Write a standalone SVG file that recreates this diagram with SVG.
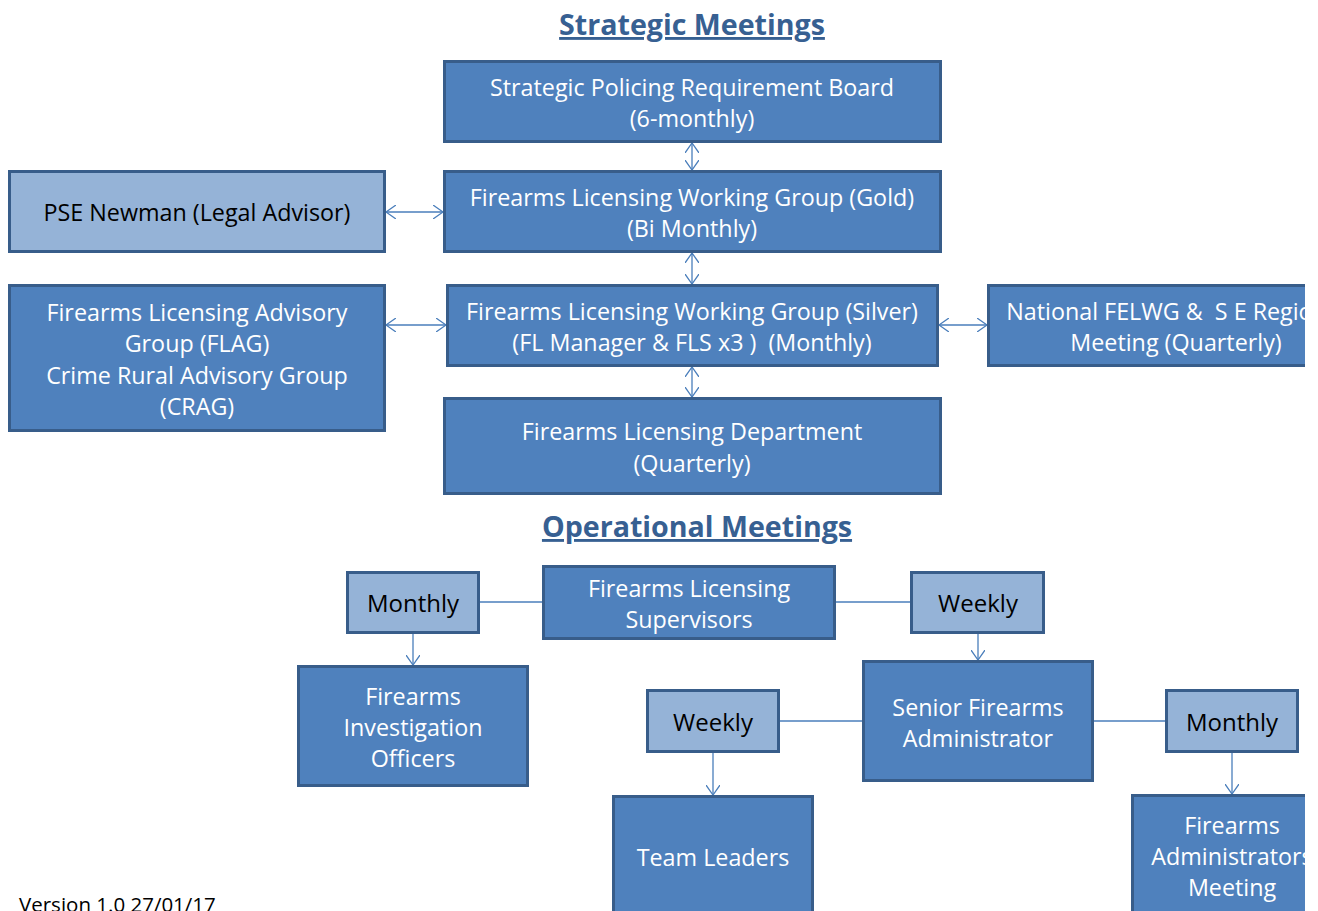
<svg xmlns="http://www.w3.org/2000/svg" width="1318" height="911" viewBox="0 0 1318 911">
  <defs>
    <style>
      .box { fill: #4F81BD; stroke: #385D8A; stroke-width: 3; }
      .lbox { fill: #95B3D7; stroke: #385D8A; stroke-width: 3; }
      .wt { font-family: "Open Sans", Lato, sans-serif; font-size: 23.3px; fill: #FFFFFF; text-anchor: middle; }
      .bt { font-family: "Open Sans", Lato, sans-serif; font-size: 23.3px; fill: #000000; text-anchor: middle; }
      .lt { font-family: "Open Sans", Lato, sans-serif; font-size: 24px; fill: #000000; text-anchor: middle; }
      .title { font-family: "Open Sans", Lato, sans-serif; font-size: 28.6px; font-weight: bold; fill: #376092; text-anchor: middle; text-decoration: underline; }
      .conn { stroke: #4A7EBB; stroke-width: 1.3; fill: none; }
      .foot { font-family: "Open Sans", Lato, sans-serif; font-size: 20.5px; fill: #000000; }
    </style>
    <marker id="arr" viewBox="0 0 10 14" refX="10" refY="7" markerWidth="10" markerHeight="14" markerUnits="userSpaceOnUse" orient="auto-start-reverse">
      <path d="M0,0 L10,7 L0,14" fill="none" stroke="#4A7EBB" stroke-width="1.3"/>
    </marker>
    <clipPath id="page">
      <rect x="0" y="0" width="1305" height="911"/>
    </clipPath>
  </defs>

  <rect x="0" y="0" width="1318" height="911" fill="#FFFFFF"/>

  <g clip-path="url(#page)">
    <!-- section headings -->
    <text class="title" x="692" y="35">Strategic Meetings</text>
    <text class="title" x="697" y="537">Operational Meetings</text>

    <!-- connectors -->
    <g id="connectors">
      <line class="conn" x1="692" y1="143" x2="692" y2="170" marker-start="url(#arr)" marker-end="url(#arr)"/>
      <line class="conn" x1="692" y1="253" x2="692" y2="284" marker-start="url(#arr)" marker-end="url(#arr)"/>
      <line class="conn" x1="692" y1="367" x2="692" y2="397" marker-start="url(#arr)" marker-end="url(#arr)"/>
      <line class="conn" x1="386" y1="212" x2="443" y2="212" marker-start="url(#arr)" marker-end="url(#arr)"/>
      <line class="conn" x1="386" y1="325" x2="446" y2="325" marker-start="url(#arr)" marker-end="url(#arr)"/>
      <line class="conn" x1="939" y1="325" x2="987" y2="325" marker-start="url(#arr)" marker-end="url(#arr)"/>

      <line class="conn" x1="479" y1="602" x2="543" y2="602"/>
      <line class="conn" x1="835" y1="602" x2="911" y2="602"/>
      <line class="conn" x1="413" y1="634" x2="413" y2="665" marker-end="url(#arr)"/>
      <line class="conn" x1="978" y1="634" x2="978" y2="660" marker-end="url(#arr)"/>
      <line class="conn" x1="779" y1="721" x2="863" y2="721"/>
      <line class="conn" x1="1093" y1="721" x2="1166" y2="721"/>
      <line class="conn" x1="713" y1="753" x2="713" y2="795" marker-end="url(#arr)"/>
      <line class="conn" x1="1232" y1="753" x2="1232" y2="794" marker-end="url(#arr)"/>
    </g>

    <!-- strategic meetings -->
    <g id="spr-board">
      <rect class="box" x="444.5" y="61.5" width="496" height="80"/>
      <text class="wt" x="692" y="96">Strategic Policing Requirement Board</text>
      <text class="wt" x="692" y="127">(6-monthly)</text>
    </g>
    <g id="flwg-gold">
      <rect class="box" x="444.5" y="171.5" width="496" height="80"/>
      <text class="wt" x="692" y="206">Firearms Licensing Working Group (Gold)</text>
      <text class="wt" x="692" y="237">(Bi Monthly)</text>
    </g>
    <g id="pse-newman">
      <rect class="lbox" x="9.5" y="171.5" width="375" height="80"/>
      <text class="bt" x="197" y="221">PSE Newman (Legal Advisor)</text>
    </g>
    <g id="flwg-silver">
      <rect class="box" x="447.5" y="285.5" width="490" height="80"/>
      <text class="wt" x="692" y="320">Firearms Licensing Working Group (Silver)</text>
      <text class="wt" x="692" y="351" xml:space="preserve">(FL Manager &amp; FLS x3 )  (Monthly)</text>
    </g>
    <g id="flag-crag">
      <rect class="box" x="9.5" y="285.5" width="375" height="145"/>
      <text class="wt" x="197" y="321">Firearms Licensing Advisory</text>
      <text class="wt" x="197" y="352">Group (FLAG)</text>
      <text class="wt" x="197" y="384">Crime Rural Advisory Group</text>
      <text class="wt" x="197" y="415">(CRAG)</text>
    </g>
    <g id="national-felwg">
      <rect class="box" x="988.5" y="285.5" width="376" height="80"/>
      <text class="wt" x="1176" y="320" xml:space="preserve">National FELWG &amp;  S E Regional</text>
      <text class="wt" x="1176" y="351">Meeting (Quarterly)</text>
    </g>
    <g id="fl-department">
      <rect class="box" x="444.5" y="398.5" width="496" height="95"/>
      <text class="wt" x="692" y="440">Firearms Licensing Department</text>
      <text class="wt" x="692" y="472">(Quarterly)</text>
    </g>

    <!-- operational meetings -->
    <g id="monthly-left">
      <rect class="lbox" x="347.5" y="572.5" width="131" height="60"/>
      <text class="lt" x="413" y="612">Monthly</text>
    </g>
    <g id="fl-supervisors">
      <rect class="box" x="543.5" y="566.5" width="291" height="72"/>
      <text class="wt" x="689" y="597">Firearms Licensing</text>
      <text class="wt" x="689" y="628">Supervisors</text>
    </g>
    <g id="weekly-right">
      <rect class="lbox" x="911.5" y="572.5" width="132" height="60"/>
      <text class="lt" x="978" y="612">Weekly</text>
    </g>
    <g id="investigation-officers">
      <rect class="box" x="298.5" y="666.5" width="229" height="119"/>
      <text class="wt" x="413" y="705">Firearms</text>
      <text class="wt" x="413" y="736">Investigation</text>
      <text class="wt" x="413" y="767">Officers</text>
    </g>
    <g id="senior-administrator">
      <rect class="box" x="863.5" y="661.5" width="229" height="119"/>
      <text class="wt" x="978" y="716">Senior Firearms</text>
      <text class="wt" x="978" y="747">Administrator</text>
    </g>
    <g id="weekly-left">
      <rect class="lbox" x="647.5" y="690.5" width="131" height="61"/>
      <text class="lt" x="713" y="731">Weekly</text>
    </g>
    <g id="monthly-right">
      <rect class="lbox" x="1166.5" y="690.5" width="131" height="61"/>
      <text class="lt" x="1232" y="731">Monthly</text>
    </g>
    <g id="team-leaders">
      <rect class="box" x="613.5" y="796.5" width="199" height="130"/>
      <text class="wt" x="713" y="866">Team Leaders</text>
    </g>
    <g id="administrators-meeting">
      <rect class="box" x="1132.5" y="795.5" width="200" height="130"/>
      <text class="wt" x="1232" y="834">Firearms</text>
      <text class="wt" x="1232" y="865">Administrators</text>
      <text class="wt" x="1232" y="896">Meeting</text>
    </g>

    <text class="foot" x="19" y="912">Version 1.0 27/01/17</text>
  </g>
</svg>
